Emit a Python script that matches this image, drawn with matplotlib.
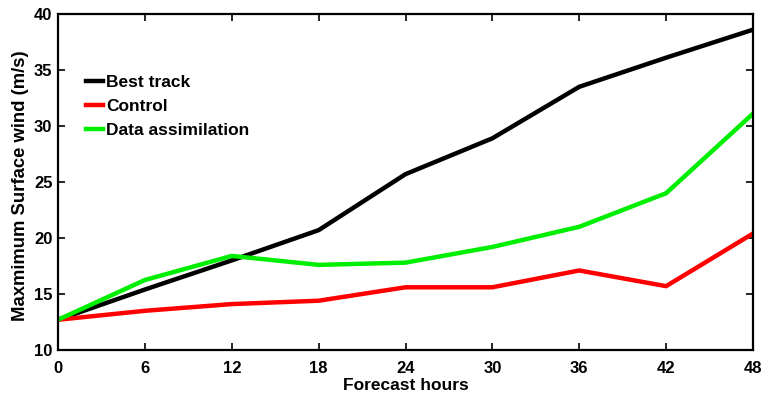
import matplotlib
matplotlib.use("Agg")
import matplotlib.pyplot as plt

hours = [0, 6, 12, 18, 24, 30, 36, 42, 48]
best_track = [12.7, 15.4, 18.0, 20.7, 25.7, 28.9, 33.5, 36.1, 38.6]
control = [12.7, 13.5, 14.1, 14.4, 15.6, 15.6, 17.1, 15.7, 20.4]
data_assim = [12.7, 16.25, 18.4, 17.6, 17.8, 19.2, 21.0, 24.0, 31.1]

plt.rcParams['font.family'] = ['Liberation Sans', 'DejaVu Sans']
plt.rcParams['font.weight'] = 'bold'

fig = plt.figure(figsize=(7.63, 3.95), dpi=100)
ax = fig.add_axes([58/763, 1-350/395, (753-58)/763, (350-14)/395])

ax.plot(hours, best_track, color='black', lw=3.2, label='Best track', solid_joinstyle='round')
ax.plot(hours, control, color='#ff0000', lw=3.2, label='Control', solid_joinstyle='round')
ax.plot(hours, data_assim, color='#00ee00', lw=3.2, label='Data assimilation', solid_joinstyle='round')

ax.set_xlim(0, 48)
ax.set_ylim(10, 40)
ax.set_xticks(hours)
ax.set_yticks([10, 15, 20, 25, 30, 35, 40])
ax.tick_params(direction='in', top=True, right=True, length=5, width=1.2, labelsize=12)
ax.tick_params(axis='x', pad=8)
ax.tick_params(axis='y', pad=4)
for lab in ax.get_xticklabels() + ax.get_yticklabels():
    lab.set_fontweight('bold')
for s in ax.spines.values():
    s.set_linewidth(1.6)

ax.set_xlabel('Forecast hours', fontsize=12.5, fontweight='bold', labelpad=1)
ax.set_ylabel('Maxmimum Surface wind (m/s)', fontsize=13.3, fontweight='bold', labelpad=4)
ax.yaxis.set_label_coords(-0.042, 0.49)

leg = ax.legend(loc='upper left', bbox_to_anchor=(0.018, 0.865), frameon=False,
                handlelength=0.95, handletextpad=0.18, labelspacing=0.5,
                prop={'size': 12.5, 'weight': 'bold'})

fig.savefig('out.png', dpi=100)
